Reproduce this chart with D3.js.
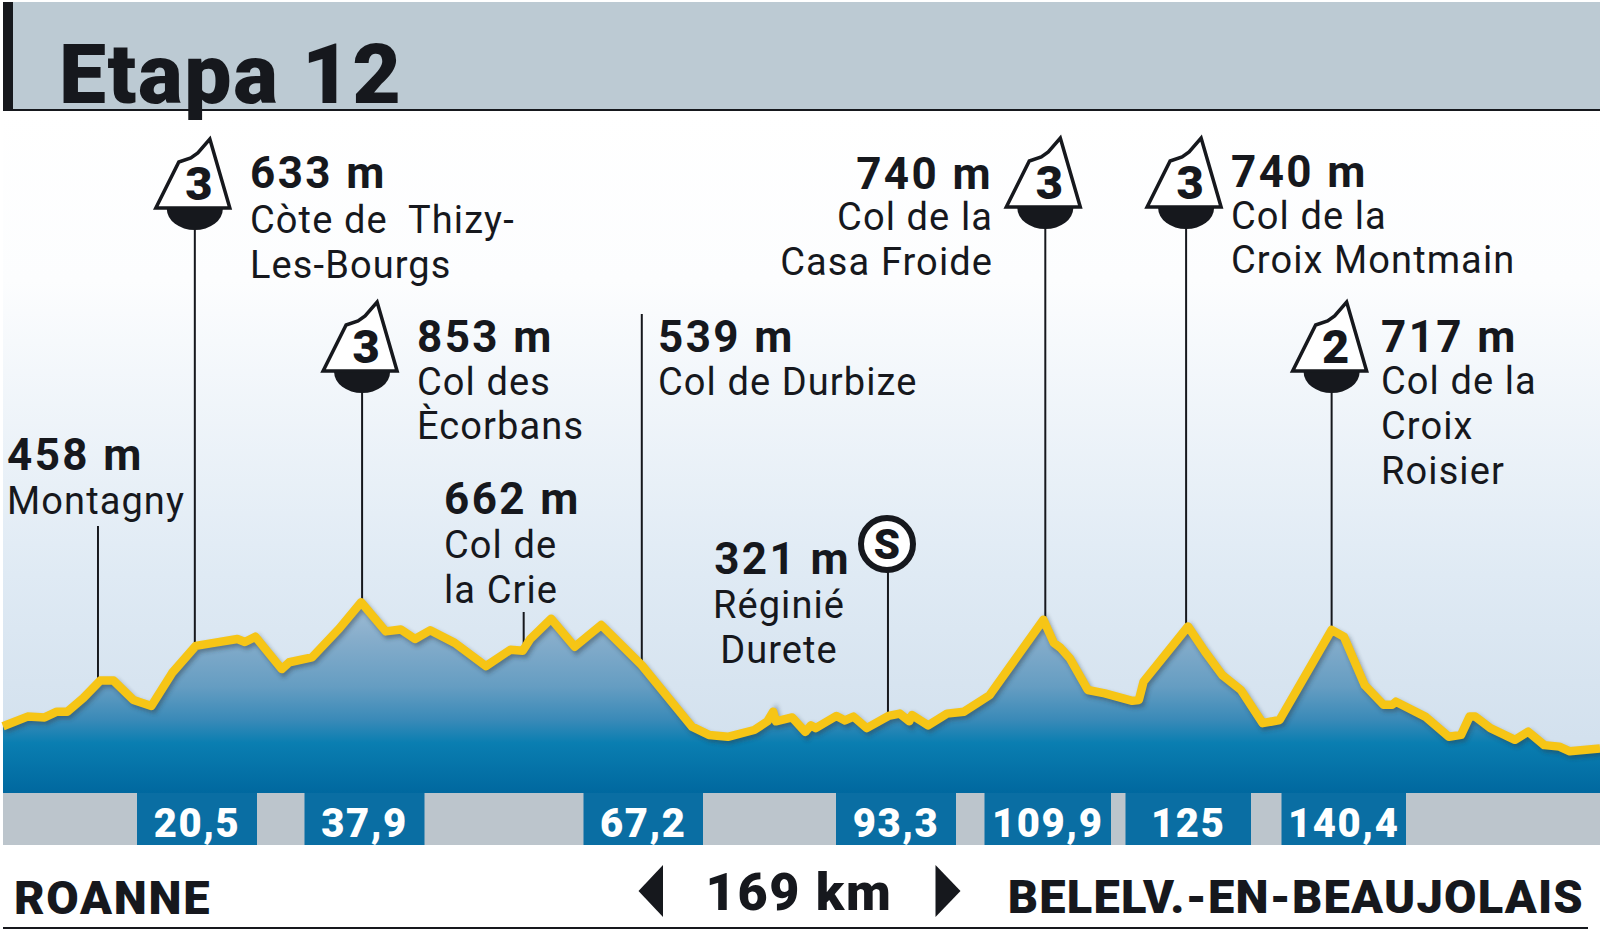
<!DOCTYPE html>
<html><head><meta charset="utf-8">
<script src="https://cdnjs.cloudflare.com/ajax/libs/d3/7.8.5/d3.min.js"></script>
<style>html,body{margin:0;padding:0;background:#fff}svg{display:block}text{font-family:Roboto,sans-serif;fill:#16181d}</style>
</head><body><div id="c"></div>
<script>
const title="Etapa 12", startCity="ROANNE", endCity="BELELV.-EN-BEAUJOLAIS", totalLabel="169 km", totalKm=169;
const profileKm=[0,2.6,4.4,5.7,6.8,8.5,10.3,11.7,13.8,15.7,17.9,20.4,22.3,24.8,25.6,26.7,29.5,30.3,32.7,35.6,37.9,40.5,42.1,43.6,45.2,47.8,51.1,53.7,55,55.8,58,60.5,63.3,67.6,72.9,74.7,76.7,79.5,80.9,81.5,81.8,83.5,84.9,85.5,86,88.2,89.1,90,91.4,93.7,94.9,95.9,96.2,97.9,99.9,101.7,104.4,110.1,111.2,111.9,112.9,114.8,116.6,119.5,120.2,120.7,125.4,127.2,129,131,133.3,135.1,140.6,141.9,144.1,146.1,147,147.4,150.5,153,154.3,155.2,155.8,157.4,160,161.4,163.1,164.7,165.8,169];
const profileElev=[271,316,312,339,339,403,485,485,394,366,521,648,662,680,666,691,539,571,594,730,853,716,725,680,721,662,553,630,625,680,775,644,746,557,269,230,221,253,294,339,294,312,244,275,262,319,298,316,262,319,330,294,323,275,330,339,416,771,662,639,589,441,425,390,394,480,739,621,512,441,285,300,723,691,464,371,371,386,316,221,230,316,316,262,207,245,182,175,153,166];
const pointKm=[10.05,20.3,38,55.1,67.6,93.65,110.3,125.2,140.6];
const pointAlt=["458 m","633 m","853 m","662 m","539 m","321 m","740 m","740 m","717 m"];
const pointNames=[["Montagny"],["Còte de  Thizy-","Les-Bourgs"],["Col des","Ècorbans"],["Col de","la Crie"],["Col de Durbize"],["Réginié","Durete"],["Col de la","Casa Froide"],["Col de la","Croix Montmain"],["Col de la","Croix","Roisier"]];
const pointCat=[null,"3","3",null,null,"S","3","3","2"];
const kmLabels=["20,5","37,9","67,2","93,3","109,9","125","140,4"];

// layout (pixels) — separate from the data
const W=1600,H=935,baseY=793,bandB=845;
const labelPos=[
 {x:7,y:470,ny:[514],a:"start",stemTop:526},
 {x:250,y:188,ny:[233,278],a:"start",stemTop:228,flag:208},
 {x:417,y:352,ny:[395,439],a:"start",stemTop:390,flag:371},
 {x:444,y:514,ny:[558,603],a:"start",stemTop:612},
 {x:658,y:352,ny:[395],a:"start",stemTop:314},
 {x:851,y:574,ny:[618,663],a:"end",nx:779,na:"middle",stemTop:572,circle:[887,544]},
 {x:993,y:189,ny:[230,275],a:"end",stemTop:226,flag:207},
 {x:1231,y:187,ny:[229,273],a:"start",stemTop:226,flag:207},
 {x:1381,y:352,ny:[394,439,484],a:"start",stemTop:390,flag:371}];
const boxes=[[137,257],[304.5,424.5],[583.5,703],[836,956],[984.5,1111],[1125.5,1251],[1281.5,1406]];

const x=d3.scaleLinear().domain([0,totalKm]).range([3,1600]);
const y=d3.scaleLinear().domain([0,853]).range([783.9,602.2]);
const elevAt=d3.scaleLinear().domain(profileKm).range(profileElev);
const pts=profileKm.map((k,i)=>[k,profileElev[i]]);

const svg=d3.select("#c").append("svg").attr("width",W).attr("height",H).attr("viewBox",`0 0 ${W} ${H}`);
const defs=svg.append("defs");
function grad(id,y1,y2,stops){const g=defs.append("linearGradient").attr("id",id).attr("gradientUnits","userSpaceOnUse").attr("x1",0).attr("x2",0).attr("y1",y1).attr("y2",y2);
 stops.forEach(s=>g.append("stop").attr("offset",s[0]).attr("stop-color",s[1]));}
grad("sky",110,baseY,[[0,"#ffffff"],[0.25,"#fcfdfe"],[0.68,"#dfeaf4"],[1,"#cfdeec"]]);
grad("land",600,baseY,[[0,"#a3bfd6"],[0.2,"#86adcb"],[0.45,"#659dc2"],[0.62,"#3a8ab8"],[0.74,"#0a7eb1"],[1,"#00689f"]]);
defs.append("filter").attr("id","blur").attr("x","-5%").attr("y","-20%").attr("width","110%").attr("height","140%").append("feGaussianBlur").attr("stdDeviation",2);

// header
svg.append("rect").attr("x",3).attr("y",2).attr("width",W-3).attr("height",108).attr("fill","#bccad3");
svg.append("rect").attr("x",3).attr("y",2).attr("width",10).attr("height",108).attr("fill","#16181d");

// plot background
svg.append("rect").attr("x",3).attr("y",111).attr("width",W-3).attr("height",baseY-111).attr("fill","url(#sky)");
svg.append("rect").attr("x",3).attr("y",109).attr("width",W-3).attr("height",2).attr("fill","#16181d");
svg.append("text").attr("x",59).attr("y",103).attr("font-size",84).attr("font-weight",900).attr("letter-spacing",1.6).text(title);

const area=d3.area().x(d=>x(d[0])).y0(baseY).y1(d=>y(d[1]));
const line=d3.line().x(d=>x(d[0])).y(d=>y(d[1]));
svg.append("path").attr("d",area(pts)).attr("fill","url(#land)");

// stems
const stems=svg.append("g").attr("stroke","#16181d").attr("stroke-width",2);
pointKm.forEach((k,i)=>stems.append("line").attr("x1",x(k)).attr("x2",x(k)).attr("y1",labelPos[i].stemTop).attr("y2",y(elevAt(k))));

// profile
svg.append("path").attr("d",line(pts)).attr("fill","none").attr("stroke","#2b3a44").attr("stroke-opacity",.45).attr("stroke-width",8.5).attr("transform","translate(2,3)").attr("filter","url(#blur)");
svg.append("path").attr("d",line(pts)).attr("fill","none").attr("stroke","#f6c516").attr("stroke-width",8.5).attr("stroke-linejoin","round");

// km band
svg.append("rect").attr("x",3).attr("y",baseY).attr("width",W-3).attr("height",bandB-baseY).attr("fill","#bcc5cc");
boxes.forEach((b,i)=>{
 svg.append("rect").attr("x",b[0]).attr("y",baseY).attr("width",b[1]-b[0]).attr("height",bandB-baseY).attr("fill","#0a6ea3");
 svg.append("text").attr("x",(b[0]+b[1])/2).attr("y",837).attr("text-anchor","middle").attr("font-size",40).attr("font-weight",900).attr("letter-spacing",1.6).style("fill","#fff").text(kmLabels[i]);
});

// labels & markers
pointKm.forEach((k,i)=>{
 const p=labelPos[i],sx=x(k);
 svg.append("text").attr("x",p.x).attr("y",p.y).attr("text-anchor",p.a).attr("font-size",44).attr("font-weight",700).attr("letter-spacing",2.4).text(pointAlt[i]);
 pointNames[i].forEach((n,j)=>svg.append("text").attr("x",p.nx??p.x).attr("y",p.ny[j]).attr("text-anchor",p.na??p.a).attr("font-size",38).attr("font-weight",400).attr("letter-spacing",1.1).style("white-space","pre").text(n));
 if(p.flag){
  const f=p.flag,g=svg.append("g").attr("transform",`translate(${sx},${f})`);
  g.append("path").attr("d","M-28,1 A28,21 0 0 0 28,1 Z").attr("fill","#16181d");
  g.append("path").attr("d","M15,-69 L35,0 L-39,0 L-16,-46 L-4,-50 L3,-55 Z").attr("fill","#fff").attr("stroke","#16181d").attr("stroke-width",3.5).attr("stroke-linejoin","miter");
  g.append("text").attr("x",4).attr("y",-8).attr("text-anchor","middle").attr("font-size",47).attr("font-weight",900).text(pointCat[i]);
 }
 if(p.circle){
  svg.append("circle").attr("cx",p.circle[0]).attr("cy",p.circle[1]).attr("r",26).attr("fill","#fff").attr("stroke","#16181d").attr("stroke-width",6);
  svg.append("text").attr("x",p.circle[0]).attr("y",p.circle[1]+15).attr("text-anchor","middle").attr("font-size",42).attr("font-weight",900).text(pointCat[i]);
 }
});

// footer
svg.append("text").attr("x",14).attr("y",914).attr("font-size",47).attr("font-weight",900).attr("letter-spacing",1.7).text(startCity);
svg.append("text").attr("x",1584).attr("y",913).attr("text-anchor","end").attr("font-size",47).attr("font-weight",900).attr("letter-spacing",1.2).text(endCity);
svg.append("text").attr("x",799).attr("y",910).attr("text-anchor","middle").attr("font-size",52).attr("font-weight",900).attr("letter-spacing",1.7).text(totalLabel);
const tri=d3.line();
svg.append("path").attr("d",tri([[663,865],[663,917],[638.5,891]])+"Z").attr("fill","#16181d");
svg.append("path").attr("d",tri([[935.5,865],[935.5,917],[960.5,891]])+"Z").attr("fill","#16181d");
svg.append("rect").attr("x",3).attr("y",927).attr("width",1585).attr("height",2).attr("fill","#16181d");
</script></body></html>
